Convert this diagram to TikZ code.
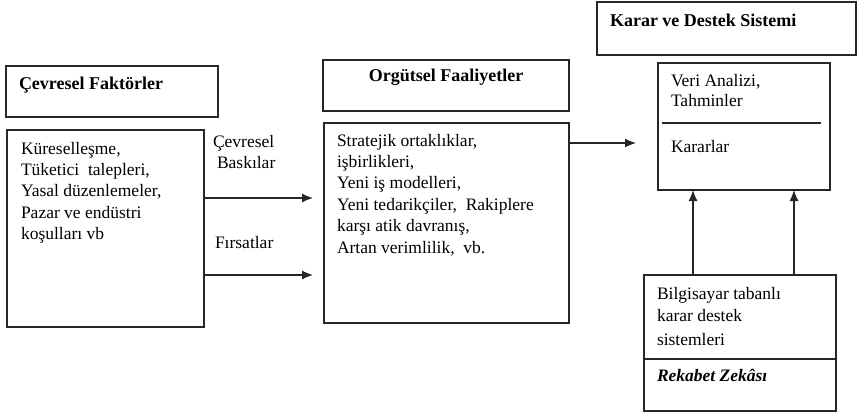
\documentclass[tikz,border=0pt]{standalone}
\usepackage{fontspec}
\setmainfont{Liberation Serif}
\usetikzlibrary{arrows.meta}
\begin{document}
\begin{tikzpicture}[x=1pt,y=-1pt,
  box/.style={draw=black!85,line width=1.1pt,inner sep=0pt,outer sep=0pt,anchor=north west},
  txt/.style={inner sep=0pt,outer sep=0pt,anchor=base west,align=left,font=\fontsize{17.5}{21.4}\selectfont},
  ttl/.style={inner sep=0pt,outer sep=0pt,anchor=base west,align=left,font=\fontsize{18}{21.4}\selectfont\bfseries},
  arr/.style={draw=black!85,line width=1.1pt,-{Latex[length=11pt,width=9pt]}}]
\useasboundingbox (0,0) rectangle (858,415);

% boxes
\node[box,minimum width=212pt,minimum height=51pt] (cft) at (6,66) {};
\node[box,minimum width=197pt,minimum height=197pt] (lbox) at (7,130) {};
\node[box,minimum width=246pt,minimum height=51pt] (oft) at (323,60) {};
\node[box,minimum width=245pt,minimum height=200pt] (mbox) at (324,123) {};
\node[box,minimum width=259pt,minimum height=53pt] (kds) at (597,2) {};
\node[box,minimum width=172pt,minimum height=127pt] (veri) at (658,63) {};
\node[box,minimum width=192pt,minimum height=136pt] (bot) at (644,275) {};

% separators
\draw[draw=black!85,line width=1.1pt] (662,123) -- (821,123);
\coordinate (s2) at (0,359);
\draw[draw=black!85,line width=1.1pt] (bot.west |- s2) -- (bot.east |- s2);

% texts (anchor = baseline of last line)
\node[ttl] (cftt) at (19,89) {Çevresel Faktörler};
\node[txt] (lt) at (21,239.6) {Küreselleşme,\\Tüketici~ talepleri,\\Yasal düzenlemeler,\\Pazar ve endüstri\\koşulları vb};
\node[txt] (l1) at (213,168.4) {Çevresel\\\hspace{4pt}Baskılar};
\node[txt] (l2) at (215,248) {Fırsatlar};
\node[ttl,anchor=base] (oftt) at (446,81) {Orgütsel Faaliyetler};
\node[txt] (mt) at (337,253) {Stratejik ortaklıklar,\\işbirlikleri,\\Yeni iş modelleri,\\Yeni tedarikçiler,~ Rakiplere\\karşı atik davranış,\\Artan verimlilik,~ vb.};
\node[ttl] (kdst) at (610,26) {Karar ve Destek Sistemi};
\node[txt] (vt) at (671,106) {Veri Analizi,\\[-1.4pt]Tahminler};
\node[txt] (kt) at (671,152) {Kararlar};
\node[txt] (bt) at (657,345) {Bilgisayar tabanlı\\karar destek\\[2.6pt]sistemleri};
\node[txt,font=\fontsize{17.5}{21.4}\selectfont\bfseries\itshape] (rt) at (657,381) {Rekabet Zekâsı};

% connectors
\coordinate (t1) at (313,198);
\coordinate (t2) at (313,275);
\coordinate (t3) at (636,143);
\coordinate (u1) at (693,0);
\coordinate (u2) at (794,0);
\draw[arr] (lbox.east |- t1) -- (t1);
\draw[arr] (lbox.east |- t2) -- (t2);
\draw[arr] (mbox.east |- t3) -- (t3);
\draw[arr] (bot.north -| u1) -- (veri.south -| u1);
\draw[arr] (bot.north -| u2) -- (veri.south -| u2);
\end{tikzpicture}
\end{document}
